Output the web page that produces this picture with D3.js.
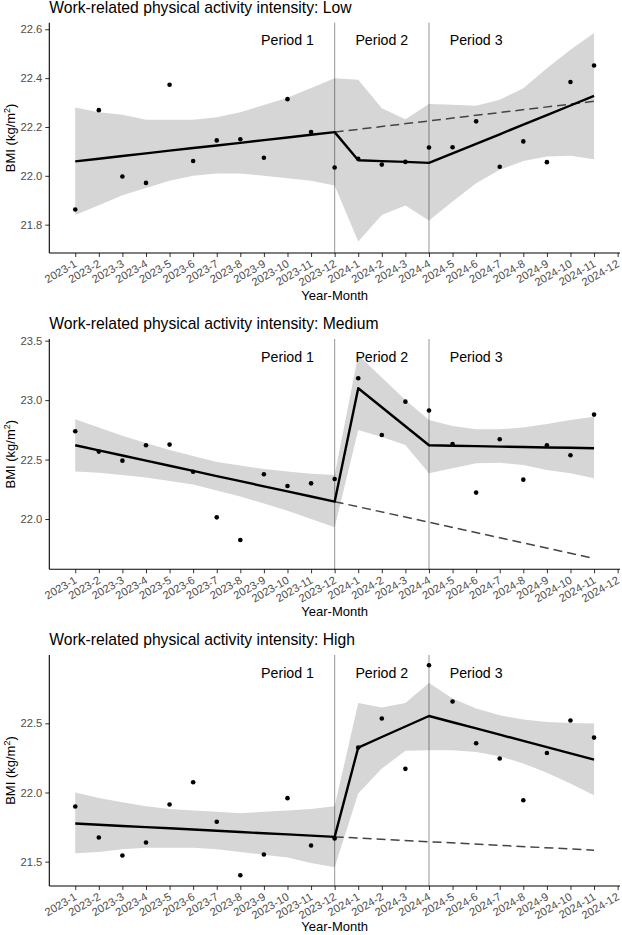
<!DOCTYPE html>
<html lang="en">
<head>
    <meta charset="UTF-8">
    <title>BMI by work-related physical activity intensity</title>
    <script src="https://d3js.org/d3.v7.min.js"></script>
    <style>
        body {
            margin: 0;
            background-color: #ffffff;
            font-family: "Liberation Sans", Arial, sans-serif;
        }
        .tick text {
            fill: #4d4d4d;
            font-size: 11.2px;
            font-family: "Liberation Sans", Arial, sans-serif;
        }
        .tick line {
            stroke: #333;
        }
    </style>
</head>
<body>
    <div id="chart"></div>

    <script>
        // Месяцы по оси X
        const months = [
            "2023-1", "2023-2", "2023-3", "2023-4", "2023-5", "2023-6",
            "2023-7", "2023-8", "2023-9", "2023-10", "2023-11", "2023-12",
            "2024-1", "2024-2", "2024-3", "2024-4", "2024-5", "2024-6",
            "2024-7", "2024-8", "2024-9", "2024-10", "2024-11", "2024-12"
        ];
        const periodNames = ["Period 1", "Period 2", "Period 3"];
        const periodCenters = [9, 13, 17];      // month index of label centre
        const breakMonths = [11, 15];           // 2023-12, 2024-4
        const cfMonths = [11, 22];              // counterfactual dashed line

        // Low
        const lowObs = [21.862, 22.269, 21.997, 21.971, 22.373, 22.061, 22.145, 22.150, 22.074, 22.314, 22.179, 22.034,
                        22.070, 22.046, 22.057, 22.116, 22.117, 22.223, 22.037, 22.141, 22.056, 22.384, 22.452];
        const lowFit = [22.059, 22.070, 22.081, 22.092, 22.103, 22.114, 22.124, 22.135, 22.146, 22.157, 22.168, 22.179,
                        22.064, 22.060, 22.057, 22.053, 22.092, 22.131, 22.170, 22.210, 22.249, 22.288, 22.327];
        const lowHi  = [22.28, 22.26, 22.25, 22.23, 22.23, 22.23, 22.24, 22.26, 22.29, 22.32, 22.36, 22.40,
                        22.393, 22.277, 22.232, 22.294, 22.291, 22.287, 22.311, 22.359, 22.441, 22.516, 22.585];
        const lowLo  = [21.84, 21.88, 21.92, 21.95, 21.98, 22.00, 22.01, 22.01, 22.00, 21.99, 21.98, 21.96,
                        21.731, 21.840, 21.878, 21.817, 21.895, 21.970, 22.025, 22.061, 22.079, 22.082, 22.068];
        const lowCf  = [22.179, 22.305];

        // Medium
        const medObs = [22.738, 22.567, 22.491, 22.620, 22.626, 22.398, 22.014, 21.823, 22.376, 22.278, 22.300, 22.337,
                        23.184, 22.707, 22.987, 22.912, 22.631, 22.222, 22.671, 22.331, 22.620, 22.536, 22.878];
        const medFit = [22.620, 22.577, 22.534, 22.491, 22.448, 22.405, 22.361, 22.318, 22.275, 22.232, 22.189, 22.146,
                        23.100, 22.940, 22.780, 22.620, 22.616, 22.613, 22.609, 22.606, 22.602, 22.599, 22.595];
        const medHi  = [22.84, 22.77, 22.70, 22.64, 22.58, 22.53, 22.48, 22.45, 22.42, 22.40, 22.38, 22.37,
                        23.38, 23.19, 23.00, 22.833, 22.783, 22.755, 22.755, 22.769, 22.800, 22.833, 22.861];
        const medLo  = [22.40, 22.39, 22.37, 22.35, 22.32, 22.29, 22.24, 22.19, 22.13, 22.07, 22.00, 21.93,
                        22.749, 22.69, 22.623, 22.385, 22.427, 22.469, 22.474, 22.455, 22.412, 22.385, 22.343];
        const medCf  = [22.146, 21.669];

        // High
        const highObs = [21.899, 21.675, 21.545, 21.639, 21.913, 22.074, 21.788, 21.402, 21.552, 21.959, 21.617, 21.668,
                         22.325, 22.535, 22.171, 22.920, 22.658, 22.356, 22.246, 21.944, 22.286, 22.520, 22.397];
        const highFit = [21.776, 21.767, 21.758, 21.750, 21.741, 21.732, 21.723, 21.714, 21.705, 21.697, 21.688, 21.679,
                         22.325, 22.401, 22.477, 22.553, 22.508, 22.463, 22.418, 22.373, 22.328, 22.283, 22.238];
        const highHi  = [22.00, 21.96, 21.93, 21.90, 21.88, 21.87, 21.86, 21.85, 21.86, 21.87, 21.88, 21.90,
                         22.647, 22.614, 22.647, 22.792, 22.679, 22.607, 22.558, 22.527, 22.510, 22.503, 22.499];
        const highLo  = [21.56, 21.57, 21.59, 21.60, 21.60, 21.60, 21.59, 21.57, 21.55, 21.53, 21.49, 21.46,
                         21.993, 22.173, 22.301, 22.306, 22.306, 22.293, 22.262, 22.210, 22.142, 22.065, 21.980];
        const highCf  = [21.679, 21.583];

        const lowTicks = [21.8, 22.0, 22.2, 22.4, 22.6];
        const medTicks = [22.0, 22.5, 23.0, 23.5];
        const highTicks = [21.5, 22.0, 22.5];

        const panels = [
            { level: "Low", obs: lowObs, fit: lowFit, hi: lowHi, lo: lowLo, cf: lowCf, ticks: lowTicks,
              domain: [21.684, 22.627], top: 22.7, bottom: 253, titleY: 13 },
            { level: "Medium", obs: medObs, fit: medFit, hi: medHi, lo: medLo, cf: medCf, ticks: medTicks,
              domain: [21.577, 23.514], top: 339, bottom: 569.3, titleY: 328.5 },
            { level: "High", obs: highObs, fit: highFit, hi: highHi, lo: highLo, cf: highCf, ticks: highTicks,
              domain: [21.324, 22.994], top: 655, bottom: 886, titleY: 645 }
        ];

        const width = 622;
        const height = 935;
        const left = 49.3;
        const right = 620;

        const svg = d3.select("#chart")
            .append("svg")
            .attr("width", width)
            .attr("height", height);

        const x = d3.scaleLinear()
            .domain([-1.1, 23.1])
            .range([left, right]);

        panels.forEach(p => {
            const y = d3.scaleLinear()
                .domain(p.domain)
                .range([p.bottom, p.top]);
            const g = svg.append("g");
            const idx = d3.range(p.obs.length);

            // доверительная полоса
            g.append("path")
                .datum(idx)
                .attr("fill", "#d6d6d6")
                .attr("d", d3.area()
                    .x(i => x(i))
                    .y0(i => y(p.lo[i]))
                    .y1(i => y(p.hi[i])));

            // границы периодов
            g.selectAll(".vline")
                .data(breakMonths)
                .enter()
                .append("line")
                .attr("x1", d => x(d))
                .attr("x2", d => x(d))
                .attr("y1", p.top)
                .attr("y2", p.bottom)
                .attr("stroke", "#000")
                .attr("stroke-opacity", 0.38)
                .attr("stroke-width", 1.1);

            // пунктир (контрфакт)
            g.append("path")
                .datum(cfMonths.map((m, k) => [m, p.cf[k]]))
                .attr("fill", "none")
                .attr("stroke", "#444")
                .attr("stroke-width", 1.5)
                .attr("stroke-dasharray", "9,5")
                .attr("d", d3.line().x(d => x(d[0])).y(d => y(d[1])));

            // линия модели
            g.append("path")
                .datum(idx)
                .attr("fill", "none")
                .attr("stroke", "#000")
                .attr("stroke-width", 2.4)
                .attr("stroke-linejoin", "round")
                .attr("d", d3.line().x(i => x(i)).y(i => y(p.fit[i])));

            // точки
            g.selectAll(".pt")
                .data(idx)
                .enter()
                .append("circle")
                .attr("cx", i => x(i))
                .attr("cy", i => y(p.obs[i]))
                .attr("r", 2.3)
                .attr("fill", "#000");

            // подписи периодов
            g.selectAll(".period")
                .data(periodNames)
                .enter()
                .append("text")
                .attr("x", (d, k) => x(periodCenters[k]))
                .attr("y", p.top + 22.5)
                .attr("text-anchor", "middle")
                .style("font-size", "14.2px")
                .attr("fill", "#000")
                .text(d => d);

            // ось Y
            const yAxis = g.append("g")
                .attr("transform", `translate(${left},0)`)
                .call(d3.axisLeft(y).tickValues(p.ticks).tickFormat(d3.format(".1f")).tickSize(4).tickPadding(3));
            yAxis.select(".domain").remove();
            g.append("line")
                .attr("x1", left).attr("x2", left)
                .attr("y1", p.top).attr("y2", p.bottom)
                .attr("stroke", "#000").attr("stroke-width", 1.1);

            // ось X
            const xAxis = g.append("g")
                .attr("transform", `translate(0,${p.bottom})`)
                .call(d3.axisBottom(x).tickValues(d3.range(months.length)).tickFormat(i => months[i]).tickSize(4));
            xAxis.select(".domain").remove();
            xAxis.selectAll("text")
                .attr("text-anchor", "end")
                .attr("x", null)
                .attr("y", null)
                .attr("dy", null)
                .attr("transform", "translate(2,13) rotate(-30)");
            g.append("line")
                .attr("x1", left).attr("x2", right)
                .attr("y1", p.bottom).attr("y2", p.bottom)
                .attr("stroke", "#000").attr("stroke-width", 1.1);

            // заголовки
            g.append("text")
                .attr("x", left)
                .attr("y", p.titleY)
                .style("font-size", "15.7px")
                .attr("fill", "#000")
                .text("Work-related physical activity intensity: " + p.level);

            g.append("text")
                .attr("x", (left + right) / 2)
                .attr("y", Math.min(p.bottom + 47, height - 4))
                .attr("text-anchor", "middle")
                .style("font-size", "13px")
                .attr("fill", "#000")
                .text("Year-Month");

            const yt = g.append("text")
                .attr("transform", `translate(15,${(p.top + p.bottom) / 2}) rotate(-90)`)
                .attr("text-anchor", "middle")
                .style("font-size", "13px")
                .attr("fill", "#000");
            yt.append("tspan").text("BMI (kg/m");
            yt.append("tspan").attr("dy", -5).style("font-size", "9px").text("2");
            yt.append("tspan").attr("dy", 5).text(")");
        });
    </script>
</body>
</html>
